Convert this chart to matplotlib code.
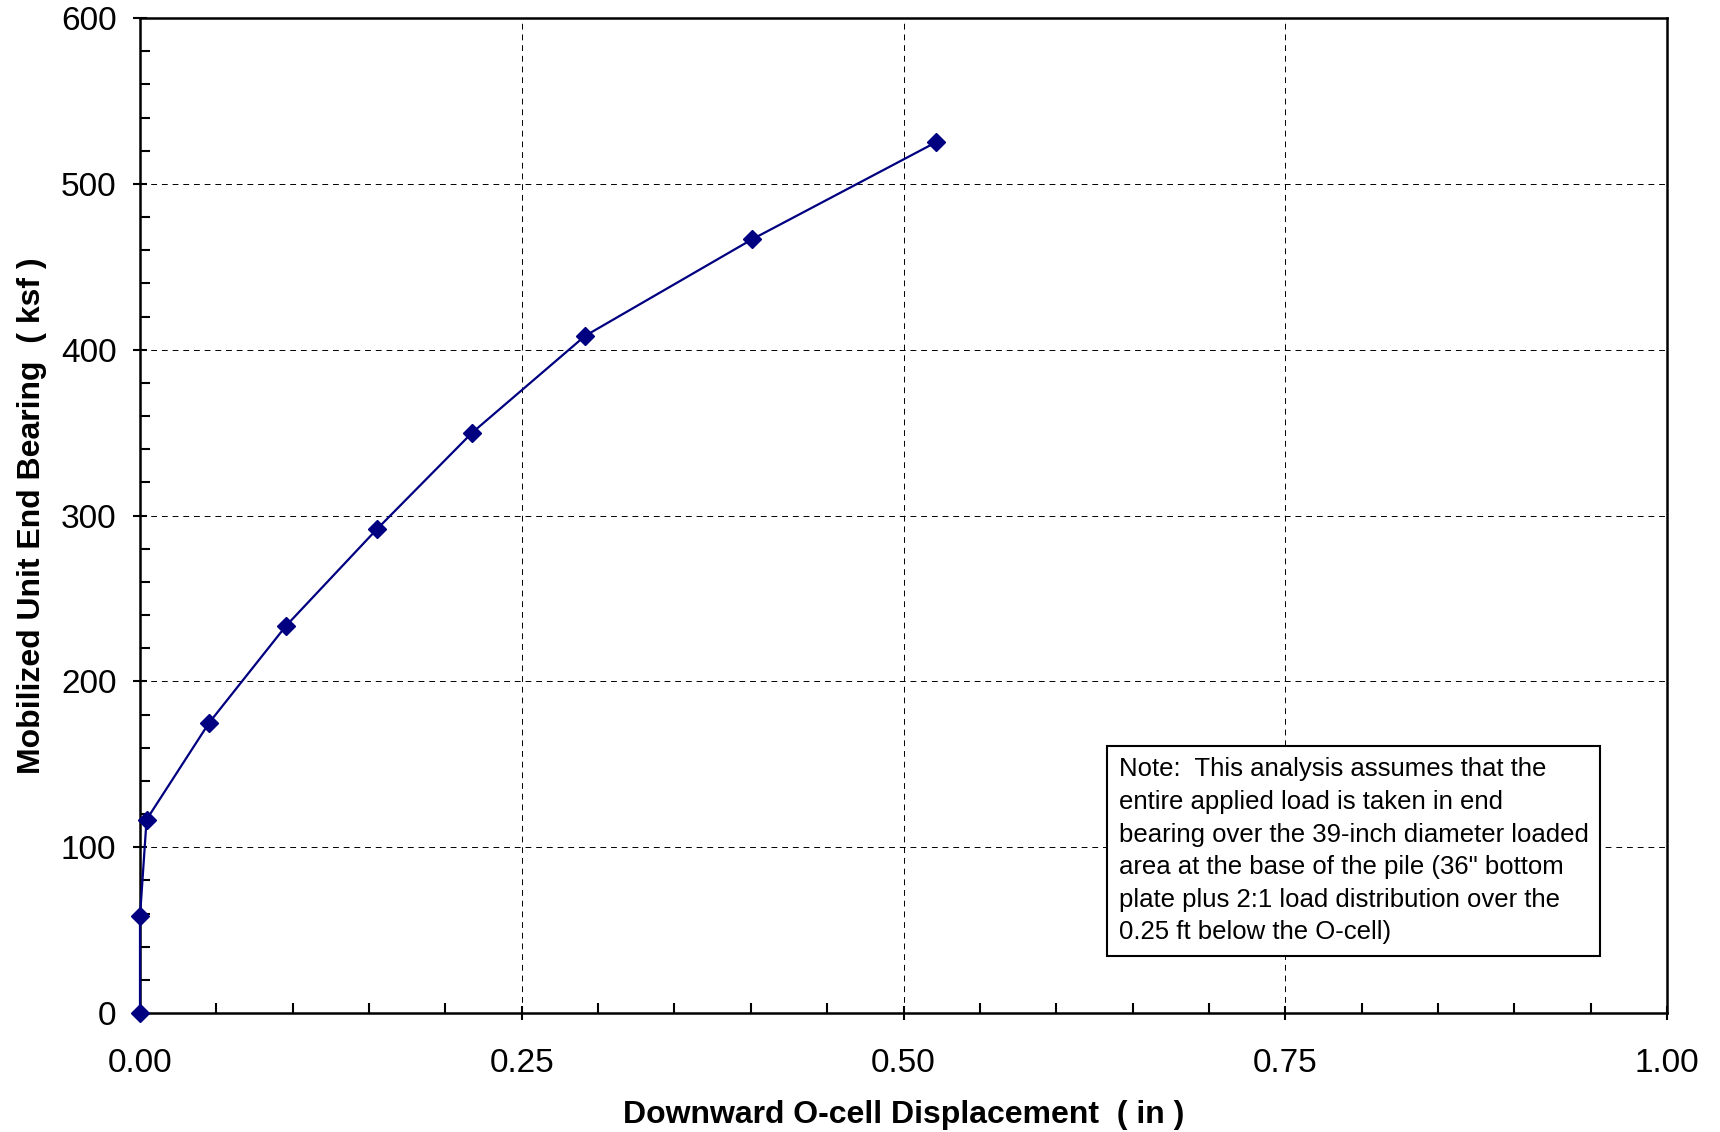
import numpy as np
import matplotlib.pyplot as plt
from matplotlib.ticker import MultipleLocator

plt.rcParams['font.family'] = ['Liberation Sans', 'DejaVu Sans']

# downward displacement (in) vs mobilized unit end bearing (ksf)
disp = [0.0, 0.0, 0.0043, 0.0452, 0.0955, 0.155, 0.2175, 0.2915, 0.401, 0.521]
bearing = [0.0, 58.3, 116.7, 175.0, 233.4, 291.7, 350.0, 408.4, 466.7, 525.0]

xticks = [0.0, 0.25, 0.5, 0.75, 1.0]
xlabels = ['0.00', '0.25', '0.50', '0.75', '1.00']
yticks = [0, 100, 200, 300, 400, 500, 600]

note = ('Note:  This analysis assumes that the\n'
        'entire applied load is taken in end\n'
        'bearing over the 39-inch diameter loaded\n'
        'area at the base of the pile (36" bottom\n'
        'plate plus 2:1 load distribution over the\n'
        '0.25 ft below the O-cell)')

fig = plt.figure(figsize=(17.2, 11.32), dpi=100)
ax = fig.add_axes([0.0814, 0.105, 0.8878, 0.879])

ax.plot(disp, bearing, color='#000080', lw=1.6, marker='D', ms=9,
        mec='#000080', mfc='#000080', zorder=3, clip_on=False)

ax.set_xlim(0, 1.0)
ax.set_ylim(0, 600)
ax.set_xticks(xticks)
ax.set_xticklabels(xlabels)
ax.set_yticks(yticks)
ax.xaxis.set_minor_locator(MultipleLocator(0.05))
ax.yaxis.set_minor_locator(MultipleLocator(20))

ax.grid(True, which='major', color='black', ls=(0, (6, 5)), lw=0.7)
ax.tick_params(which='major', direction='inout', length=10, width=1.5,
               labelsize=24, top=False, right=False)
ax.tick_params(axis='x', which='major', pad=20)
ax.tick_params(axis='y', which='major', pad=12)
ax.tick_params(which='minor', direction='in', length=7, width=1.5,
               top=False, right=False)
for s in ax.spines.values():
    s.set_linewidth(1.8)

ax.set_xlabel('Downward O-cell Displacement  ( in )', fontsize=23,
              fontweight='bold', labelpad=15)
ax.set_ylabel('Mobilized Unit End Bearing  ( ksf )', fontsize=23,
              fontweight='bold', labelpad=10)

ax.text(0.641, 0.257, note, transform=ax.transAxes, fontsize=18.5,
        linespacing=1.45, va='top', ha='left', zorder=4,
        bbox=dict(boxstyle='square,pad=0.45', fc='white', ec='black', lw=1.5))

fig.savefig('out.png', dpi=100)
